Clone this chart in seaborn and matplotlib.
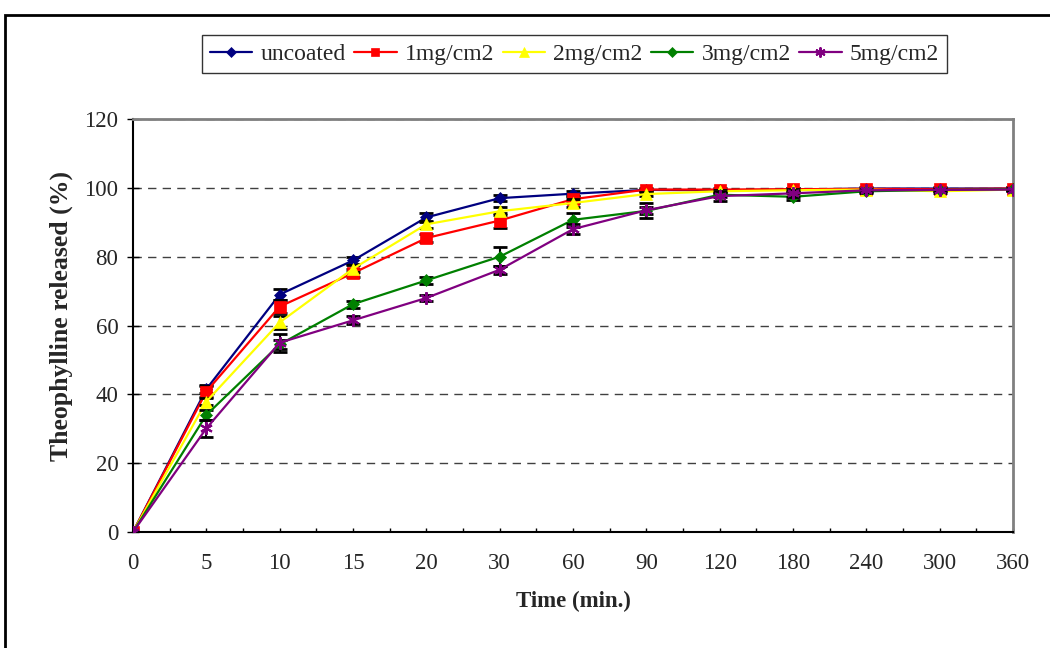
import numpy as np
import pandas as pd
import matplotlib
matplotlib.use("Agg")
import matplotlib.pyplot as plt
import seaborn as sns
from matplotlib.patches import Rectangle
from matplotlib.ticker import MultipleLocator

# dissolution data (time points are spaced as categories)
times = [0, 5, 10, 15, 20, 30, 60, 90, 120, 180, 240, 300, 360]
series_names = ["uncoated", "1mg/cm2", "2mg/cm2", "3mg/cm2", "5mg/cm2"]

uncoated = [0, 41.5, 69.0, 78.9, 91.4, 97.0, 98.3, 99.4, 99.3, 99.5, 99.8, 99.8, 99.8]
mg1 = [0, 40.8, 65.5, 75.2, 85.4, 90.5, 96.7, 99.5, 99.5, 99.6, 99.7, 99.6, 99.8]
mg2 = [0, 37.9, 60.9, 76.5, 89.4, 93.2, 95.6, 98.2, 99.0, 99.3, 99.5, 99.0, 99.5]
mg3 = [0, 34.0, 54.5, 66.2, 73.1, 80.0, 90.7, 93.3, 98.0, 97.4, 99.0, 99.4, 99.6]
mg5 = [0, 30.1, 55.0, 61.5, 68.0, 76.2, 88.0, 93.5, 97.6, 98.4, 99.3, 99.4, 99.5]

err_uncoated = [0, 1.2, 1.7, 1.0, 1.3, 0.8, 0.8, 0.4, 0.4, 0.4, 0.3, 0.3, 0.3]
err_mg1 = [0, 1.5, 1.8, 1.2, 1.2, 2.2, 1.0, 0.4, 0.4, 0.4, 0.3, 0.3, 0.3]
err_mg2 = [0, 1.0, 1.8, 1.0, 1.0, 1.2, 1.2, 0.5, 0.5, 0.5, 0.3, 0.5, 0.3]
err_mg3 = [0, 1.4, 1.2, 1.0, 1.0, 2.8, 2.0, 1.0, 0.6, 1.0, 0.5, 0.3, 0.3]
err_mg5 = [0, 2.5, 2.6, 1.2, 1.0, 1.2, 1.5, 2.2, 1.5, 1.0, 0.5, 0.3, 0.3]

values = [uncoated, mg1, mg2, mg3, mg5]
errors = [err_uncoated, err_mg1, err_mg2, err_mg3, err_mg5]

colors = ["#000080", "#FF0000", "#FFFF00", "#008000", "#800080"]
markers = ["D", "s", "^", "D", (6, 2, 0)]
msizes = [6, 8, 9, 6, 9]

# long table for seaborn
rows = []
for name, vals, errs in zip(series_names, values, errors):
    for i, (t, v, e) in enumerate(zip(times, vals, errs)):
        rows.append({"pos": i, "time": t, "released": v, "err": e, "coating": name})
df = pd.DataFrame(rows)

sns.set_style("white")
plt.rcParams["font.family"] = ["Liberation Serif", "DejaVu Serif"]

fig = plt.figure(figsize=(10.5, 6.48), dpi=100)
ax = fig.add_axes([133 / 1050, 1 - 532 / 648, (1013 - 133) / 1050, (532 - 119) / 648])

for i, name in enumerate(series_names):
    sub = df[df["coating"] == name]
    sns.lineplot(data=sub, x="pos", y="released", ax=ax, color=colors[i],
                 marker=markers[i], markersize=msizes[i], markeredgecolor=colors[i],
                 markeredgewidth=1.5 if i == 4 else 0.5, linewidth=1.6,
                 label=name, zorder=3 + i)
    ax.errorbar(sub["pos"], sub["released"], yerr=sub["err"], fmt="none",
                ecolor="black", elinewidth=1.5, capsize=5, capthick=2, zorder=2 + i)

# grid and axes styling
ax.set_xlim(0, len(times) - 1)
ax.set_ylim(0, 120)
ax.set_yticks(np.arange(0, 121, 20))
ax.set_xticks(range(len(times)))
ax.set_xticklabels([str(t) for t in times])
ax.xaxis.set_minor_locator(MultipleLocator(0.5))
ax.yaxis.grid(True, color="#404040", linestyle=(0, (6, 4.5)), linewidth=1)
ax.xaxis.grid(False)

ax.tick_params(axis="x", which="both", direction="in", length=3, width=1, color="black",
               labelsize=16.5, pad=15, bottom=True)
ax.tick_params(axis="y", direction="inout", length=9, width=1, color="black",
               labelsize=16.5, pad=6, left=True)

for s in ["left", "bottom"]:
    ax.spines[s].set_color("black")
    ax.spines[s].set_linewidth(1.5)
for s in ["top", "right"]:
    ax.spines[s].set_color("#808080")
    ax.spines[s].set_linewidth(2)

ax.set_xlabel("Time (min.)", fontsize=16.5, fontweight="bold", labelpad=12)
ax.set_ylabel("Theophylline released (%)", fontsize=18.5, fontweight="bold")
ax.yaxis.set_label_coords(-0.068, 0.523)

handles, labels = ax.get_legend_handles_labels()
ax.get_legend().remove()
fig.legend(handles, labels, loc="center", bbox_to_anchor=(574.5 / 1050, 1 - 54 / 648),
           ncol=5, fontsize=17, frameon=True, fancybox=False, edgecolor="black",
           handlelength=1.8, handletextpad=0.35, columnspacing=0.35, borderpad=0.35,
           markerscale=0.8)

# outer chart border (only top and left edges are visible)
fig.add_artist(Rectangle((5 / 1050, -0.2), 1.2, 1 - 15 / 648 + 0.2, fill=False,
                         edgecolor="black", linewidth=2, transform=fig.transFigure,
                         clip_on=False))

fig.savefig("out.png", dpi=100)
